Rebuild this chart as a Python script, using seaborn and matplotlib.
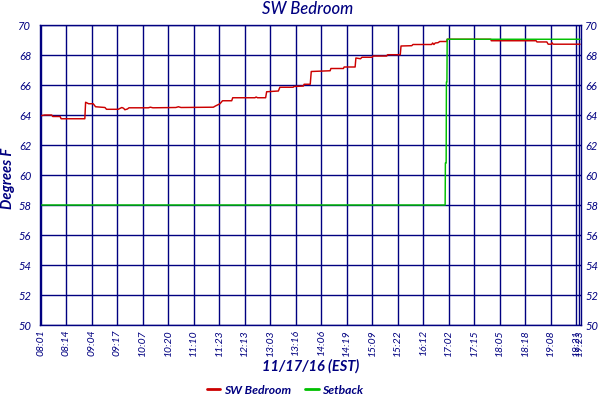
import matplotlib
matplotlib.use("Agg")
import matplotlib.pyplot as plt
from matplotlib.lines import Line2D
import seaborn as sns
import pandas as pd

# ---- data (x = sample index, y = degrees F) ----
tick_labels = ["08:01", "08:14", "09:04", "09:17", "10:07", "10:20", "11:10", "11:23",
               "12:13", "13:03", "13:16", "14:06", "14:19", "15:09", "15:22", "16:12",
               "17:02", "17:15", "18:05", "18:18", "19:08", "19:21", "19:23"]
tick_pos = [0, 10, 20, 30, 40, 50, 60, 70, 80, 90, 100, 110, 120, 130, 140, 150,
            160, 170, 180, 190, 200, 210, 211.1]

room_x = [0, 1.5, 4.3, 4.7, 7.6, 8.0, 17.3, 17.6, 18.8, 20.6, 21.5, 25.2, 25.8, 30.4,
          31.8, 32.5, 33.0, 34.0, 34.6, 42.2, 43.0, 44.0, 53.0, 54.0, 55.0, 67.7, 68.5,
          70.3, 71.3, 74.9, 75.3, 84.0, 84.5, 85.0, 88.2, 88.6, 93.2, 93.8, 99.0, 99.3,
          103.0, 103.3, 105.7, 106.1, 113.5, 113.8, 118.7, 119.0, 123.3, 123.6, 125.4,
          126.0, 130.0, 130.3, 135.7, 136.0, 141.0, 141.3, 145.5, 146.0, 153.3, 153.7,
          154.2, 154.7, 155.8, 156.5, 159.2, 159.4, 176.5, 176.7, 194.3, 194.6, 198.5,
          199.0, 200.2, 200.5, 200.9, 211.5]
room_y = [63.95, 64.0, 64.0, 63.9, 63.9, 63.75, 63.75, 64.85, 64.75, 64.75, 64.55, 64.5,
          64.38, 64.38, 64.5, 64.45, 64.35, 64.4, 64.48, 64.48, 64.52, 64.48, 64.5, 64.55,
          64.5, 64.52, 64.6, 64.75, 64.95, 64.95, 65.15, 65.15, 65.2, 65.15, 65.15, 65.55,
          65.6, 65.85, 65.85, 65.9, 65.93, 66.05, 66.05, 66.9, 66.95, 67.1, 67.1, 67.2,
          67.2, 67.8, 67.75, 67.85, 67.85, 67.93, 67.93, 68.02, 68.02, 68.6, 68.62, 68.7,
          68.7, 68.8, 68.7, 68.8, 68.82, 68.9, 68.9, 69.05, 69.05, 68.95, 68.95, 68.87,
          68.87, 68.72, 68.72, 68.82, 68.72, 68.72]

setback_x = [0, 158.6, 158.7, 159.0, 159.1, 159.3, 159.4, 211.5]
setback_y = [58, 58, 60.8, 60.8, 66.2, 66.2, 69.05, 69.05]

series_names = ["SW Bedroom", "Setback"]
series_colors = ["#cc0000", "#00c000"]
y_ticks = list(range(50, 71, 2))

# ---- style ----
sns.set_style("white")
plt.rcParams["font.family"] = ["Lato", "DejaVu Sans"]
NAVY = "#000080"

df = pd.concat([
    pd.DataFrame({"x": room_x, "y": room_y, "series": series_names[0]}),
    pd.DataFrame({"x": setback_x, "y": setback_y, "series": series_names[1]}),
], ignore_index=True)

fig = plt.figure(figsize=(6, 4), dpi=100)
ax = fig.add_axes([39.7 / 600, 1 - 325 / 400, (581.3 - 39.7) / 600, 300 / 400])

sns.lineplot(data=df, x="x", y="y", hue="series", hue_order=series_names,
             palette=dict(zip(series_names, series_colors)), estimator=None,
             sort=False, legend=False, linewidth=1.05, ax=ax)

ax.set_xlim(-0.4, 212)
ax.set_ylim(50, 70)
ax.set_xticks(tick_pos)
ax.set_xticklabels(tick_labels, rotation=90, fontsize=7.5, style="italic", color=NAVY)
ax.set_yticks(y_ticks)
ax.set_yticklabels([str(v) for v in y_ticks], fontsize=8, style="italic", color=NAVY)
ax.tick_params(axis="both", length=0)
ax.tick_params(axis="x", pad=3)
ax.tick_params(axis="y", pad=6)
ax.grid(True, color=NAVY, linewidth=1.0)
ax.set_axisbelow(True)
for s in ax.spines.values():
    s.set_color(NAVY)
    s.set_linewidth(1.0)
ax.set_xlabel("")
ax.set_ylabel("")

ax2 = ax.twinx()
ax2.set_ylim(50, 70)
ax2.set_yticks(y_ticks)
ax2.set_yticklabels([str(v) for v in y_ticks], fontsize=8, style="italic", color=NAVY)
ax2.tick_params(axis="y", length=0, pad=3)
ax2.grid(False)
for s in ax2.spines.values():
    s.set_visible(False)

fig.text(308 / 600, 1 - 9 / 400, "SW Bedroom", ha="center", va="center",
         fontsize=12, style="italic", weight="medium", color=NAVY)
fig.text(311 / 600, 1 - 366 / 400, "11/17/16 (EST)", ha="center", va="center",
         fontsize=10.5, style="italic", weight="bold", color=NAVY)
fig.text(8 / 600, 1 - 178 / 400, "Degrees F", ha="center", va="center", rotation=90,
         fontsize=10.5, style="italic", weight="bold", color=NAVY)

handles = [Line2D([0], [0], color=c, linewidth=2) for c in series_colors]
leg = fig.legend(handles, series_names, loc="center", bbox_to_anchor=(285 / 600, 1 - 390 / 400),
                 ncol=2, frameon=False, handlelength=1.1, handletextpad=0.3,
                 columnspacing=1.2, prop={"size": 8.7, "style": "italic", "weight": "bold"})
for t in leg.get_texts():
    t.set_color(NAVY)

fig.savefig("out.png", dpi=100)
